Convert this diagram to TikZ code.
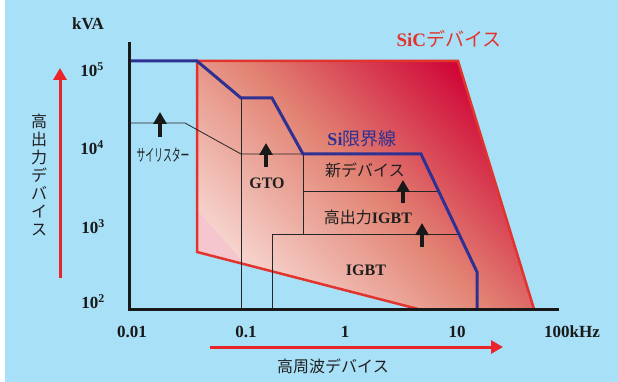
\documentclass[tikz,border=0pt]{standalone}
\usepackage{fontspec}
\setmainfont{Liberation Serif}
\newfontfamily\jp{Noto Sans CJK JP}
\usetikzlibrary{arrows.meta}
\definecolor{bg}{RGB}{168,224,248}
\definecolor{sicred}{RGB}{226,52,45}
\definecolor{sicA}{RGB}{246,214,208}
\definecolor{sicB}{RGB}{226,132,116}
\definecolor{sicC}{RGB}{208,8,56}
\definecolor{pinkT}{RGB}{246,198,206}
\definecolor{siblue}{RGB}{46,49,146}
\definecolor{arrred}{RGB}{234,36,40}
\tikzset{
  tick/.style={font=\fontsize{17}{20}\selectfont\bfseries, text=black!90, inner sep=0pt},
  jlabel/.style={font=\jp\fontsize{16}{18}\selectfont, text=black!88, inner sep=0pt},
  blabel/.style={font=\fontsize{16}{18}\selectfont\bfseries, text=black!88, inner sep=0pt},
  thinline/.style={line width=0.8pt, black!85},
  upbig/.style={line width=4pt, -{Triangle[width=13pt,length=12pt]}, black!90},
  redarrow/.style={line width=3pt, arrred, -{Triangle[width=13pt,length=12pt]}},
}
\begin{document}
\begin{tikzpicture}[x=1pt,y=-1pt]
\useasboundingbox (0,0) rectangle (618,382);
\fill[white] (0,0) rectangle (618,382);
\fill[bg] (5,0) rectangle (618,382);

% SiC region
\shade[bottom color=sicA, top color=sicC, middle color=sicB, shading angle=-45]
  (197,61) -- (458,61) -- (534,309) -- (418,309) -- (197,252) -- cycle;
\fill[pinkT] (197,210) -- (245,264) -- (197,252) -- cycle;
\draw[sicred, line width=2.5pt, line join=miter]
  (418,309) -- (197,252) -- (197,61) -- (458,61) -- (534,309);

% device boundaries
\draw[thinline] (129,123) -- (185,123) -- (241,154) -- (303,154);
\draw[thinline] (241,98) -- (241,309);
\draw[thinline] (303,154) -- (303,234);
\draw[thinline] (303,191) -- (439,191);
\draw[thinline] (272,309) -- (272,234) -- (459,234);

% Si limit line
\draw[siblue, line width=3pt, line join=miter]
  (129,61) -- (197,61) -- (241,98) -- (272,98) -- (303,154) -- (421,154) -- (477,272) -- (477,309);

% axes
\draw[line width=3pt, black!90] (129,42) -- (129,309) -- (559,309);

% tick labels
\node[tick] (kva) at (88,24) {kVA};
\node[tick] (y5) at (92,70) {10\textsuperscript{5}};
\node[tick] (y4) at (92,148) {10\textsuperscript{4}};
\node[tick] (y3) at (93,227) {10\textsuperscript{3}};
\node[tick] (y2) at (93,302) {10\textsuperscript{2}};
\node[tick] (x001) at (132,332) {0.01};
\node[tick] (x01) at (246,332) {0.1};
\node[tick] (x1) at (345,332) {1};
\node[tick] (x10) at (457,332) {10};
\node[tick] (x100) at (572,332) {100kHz};

% axis arrows and titles
\coordinate (va) at (60,278);
\coordinate (vb) at (60,68);
\draw[redarrow] (va) -- (vb);
\coordinate (ha) at (210,347);
\coordinate (hb) at (503,347);
\draw[redarrow] (ha) -- (hb);
\node[jlabel, align=center] (vtitle) at (39,175) {高\\出\\力\\デ\\バ\\イ\\ス};
\node[jlabel] (htitle) at (333,366) {高周波デバイス};

% region labels
\node[jlabel, font=\jp\fontsize{19}{22}\selectfont, text=sicred] (sic) at (449,39) {{\fontspec{Liberation Serif}\bfseries SiC}デバイス};
\node[jlabel, font=\jp\fontsize{18}{21}\selectfont, text=siblue] (si) at (362,139) {{\fontspec{Liberation Serif}\bfseries Si}限界線};
\node[jlabel] (thy) at (163,155) {\scalebox{0.55}[1.05]{サイリスター}};
\node[blabel] (gto) at (267,183) {GTO};
\node[jlabel] (newd) at (365,170) {新デバイス};
\node[jlabel] (hpigbt) at (368,217) {高出力{\fontspec{Liberation Serif}\bfseries IGBT}};
\node[blabel] (igbt) at (366,270) {IGBT};

% progress arrows
\coordinate (a1s) at (160,137); \coordinate (a1e) at (160,112);
\coordinate (a2s) at (266,167); \coordinate (a2e) at (266,143);
\coordinate (a3s) at (403,203); \coordinate (a3e) at (403,180);
\coordinate (a4s) at (422,247); \coordinate (a4e) at (422,223);
\draw[upbig] (a1s) -- (a1e);
\draw[upbig] (a2s) -- (a2e);
\draw[upbig] (a3s) -- (a3e);
\draw[upbig] (a4s) -- (a4e);
\end{tikzpicture}
\end{document}
